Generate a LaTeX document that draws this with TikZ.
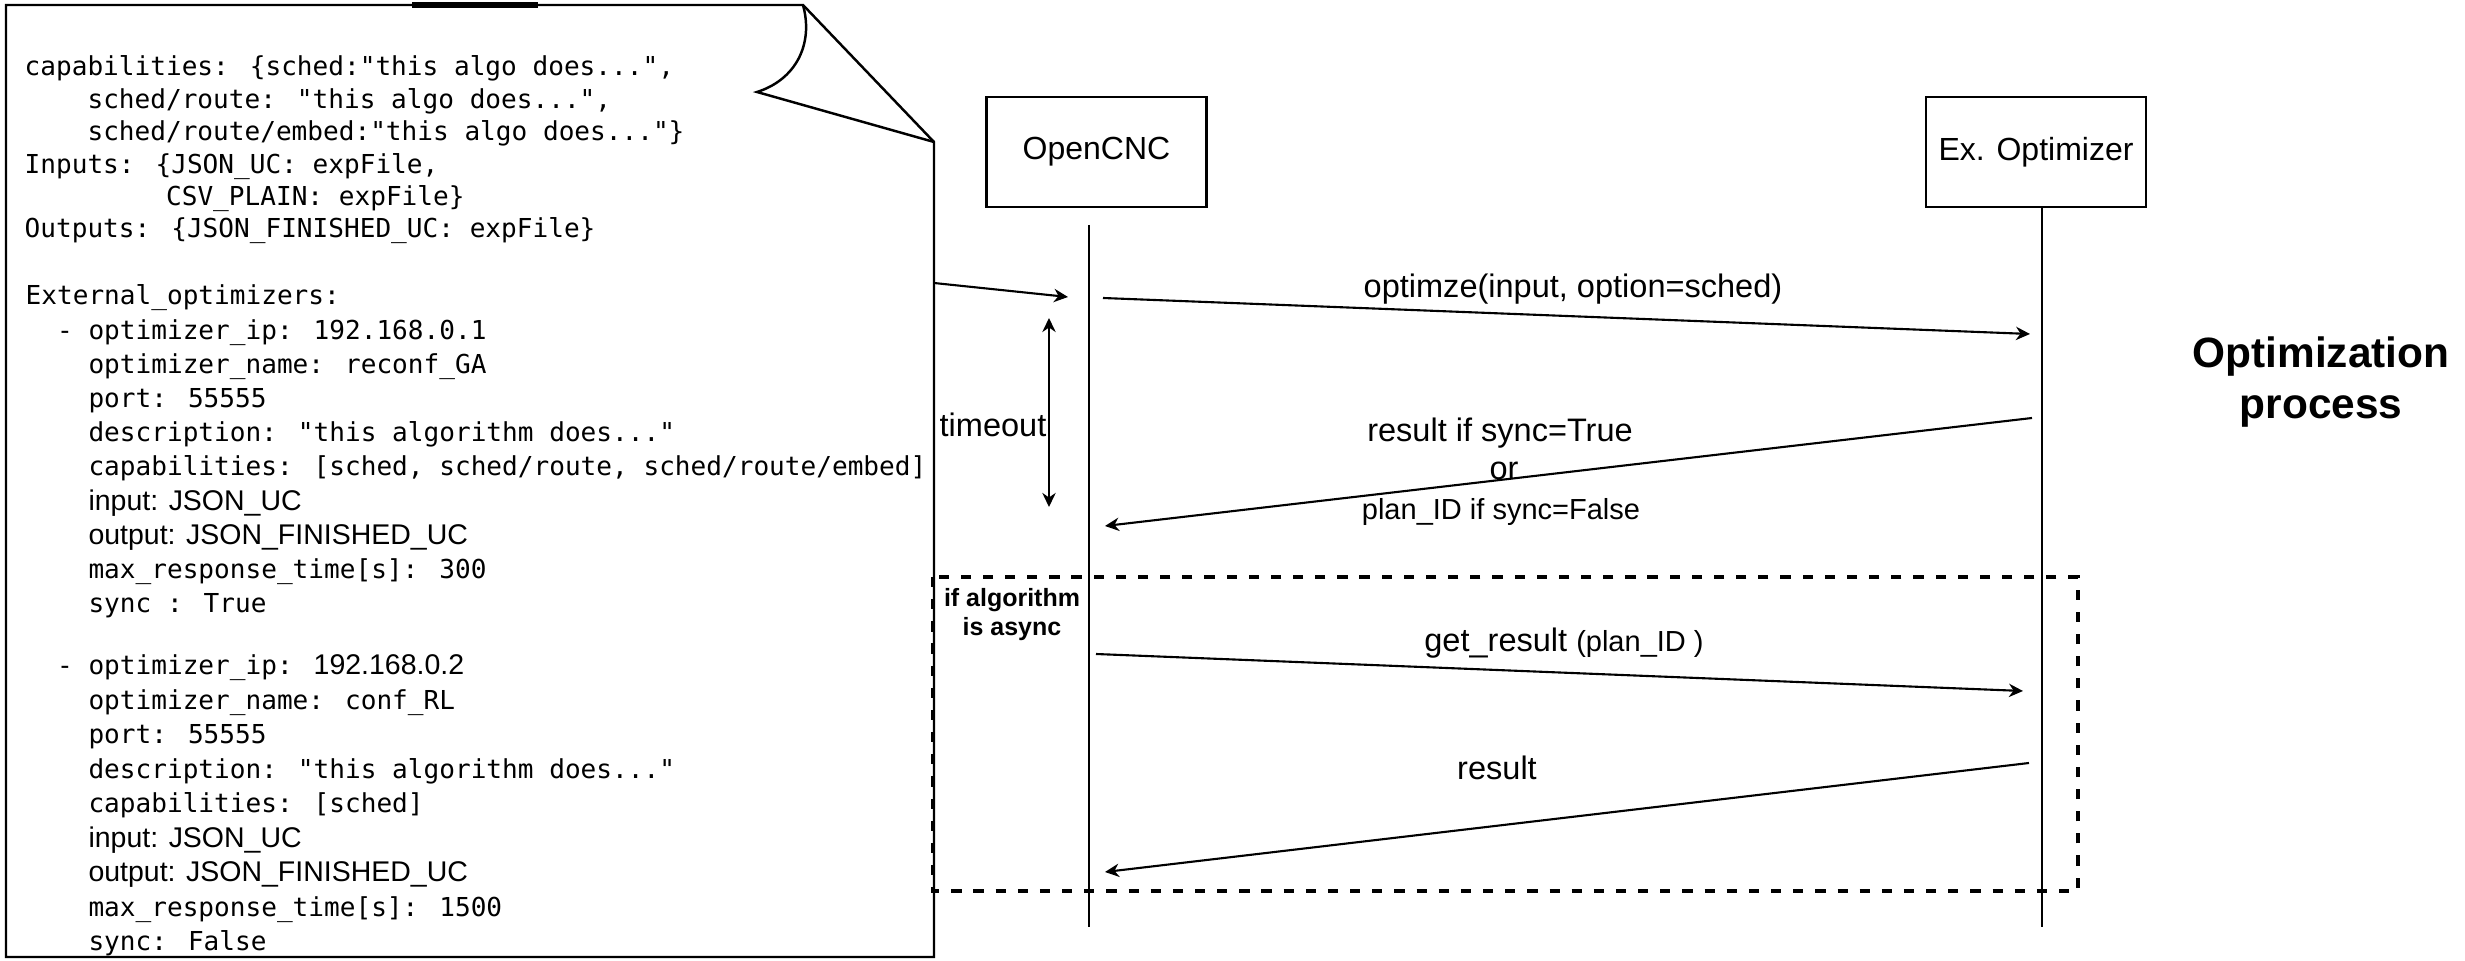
\documentclass[tikz,border=0pt]{standalone}
\usepackage{fontspec}
\setmainfont{Liberation Sans}
\newfontfamily\codefont{DejaVu Sans Mono}
\newcommand\docsans{\rmfamily\fontsize{8.1}{9}\selectfont}
\newcommand\pontos{...}
\usetikzlibrary{arrows.meta}

\begin{document}
\begin{tikzpicture}[
		x=0.01cm, y=-0.01cm,
		caixas/.style={
			draw,
			rectangle,
			minimum width=2.2cm,
			minimum height=1.1cm,
			align=center,
			line width=0.8pt,
			font=\fontsize{9.1}{11}\selectfont
		},
		seta/.style={
			-{Stealth[length=4pt,width=3.8pt]},
			line width=0.6pt
		},
		rotulo/.style={anchor=base, inner sep=0pt, font=\fontsize{9.25}{11}\selectfont},
		rotulopeq/.style={anchor=base, inner sep=0pt, font=\fontsize{8.25}{10}\selectfont},
		codigo/.style={anchor=base west, inner sep=0pt, font=\codefont\fontsize{7.42}{9}\selectfont}
		]
		
		\useasboundingbox (0,0) rectangle (2465,961);
		
		%Documento
		\draw[line width=0.7pt] (6,5) -- (803,5) -- (934,142) -- (934,957) -- (6,957) -- cycle;
		\draw[line width=0.7pt] (803,5) .. controls (814,45) and (795,80) .. (757,92) -- (934,142);
		\draw[line width=1.6pt] (412,5) -- (538,5);
		
		\foreach \l [count=\i] in {
			{capabilities: \{sched:"this algo does\pontos",},
			{\phantom{0000}sched/route: "this algo does\pontos",},
			{\phantom{0000}sched/route/embed:"this algo does\pontos"\}},
			{Inputs: \{JSON\_UC: expFile,},
			{\phantom{000000000}CSV\_PLAIN: expFile\}},
			{Outputs: \{JSON\_FINISHED\_UC: expFile\}}
		}
		\node[codigo] (cfg\i) at (24, {76+(\i-1)*32.4}) {\l};
		
		\foreach \l [count=\i] in {
			{External\_optimizers:},
			{\phantom{00}- optimizer\_ip: 192.168.0.1},
			{\phantom{0000}optimizer\_name: reconf\_GA},
			{\phantom{0000}port: 55555},
			{\phantom{0000}description: "this algorithm does\pontos"},
			{\phantom{0000}capabilities: [sched, sched/route, sched/route/embed]},
			{\phantom{0000}{\docsans input: JSON\_UC}},
			{\phantom{0000}{\docsans output: JSON\_FINISHED\_UC}},
			{\phantom{0000}max\_response\_time[s]: 300},
			{\phantom{0000}sync : True}
		}
		\node[codigo] (optA\i) at (25, {305+(\i-1)*34.2}) {\l};
		
		\foreach \l [count=\i] in {
			{\phantom{00}- optimizer\_ip: {\docsans 192.168.0.2}},
			{\phantom{0000}optimizer\_name: conf\_RL},
			{\phantom{0000}port: 55555},
			{\phantom{0000}description: "this algorithm does\pontos"},
			{\phantom{0000}capabilities: [sched]},
			{\phantom{0000}{\docsans input: JSON\_UC}},
			{\phantom{0000}{\docsans output: JSON\_FINISHED\_UC}},
			{\phantom{0000}max\_response\_time[s]: 1500},
			{\phantom{0000}sync: False}
		}
		\node[codigo] (optB\i) at (25, {675+(\i-1)*34.5}) {\l};
		
		%Participantes
		\node[caixas] (cnc) at (1096.5,152) {OpenCNC};
		\node[caixas] (exopt) at (2036,152) {Ex. Optimizer};
		
		\coordinate (cncTop) at (1089,225);
		\coordinate (cncBot) at (1089,927);
		\coordinate (optTop) at (2042,207);
		\coordinate (optBot) at (2042,927);
		\draw[line width=0.7pt] (cncTop) -- (cncBot);
		\draw[line width=0.7pt] (optTop) -- (optBot);
		
		%Mensagens
		\coordinate (docOut) at (934,283);
		\coordinate (cncIn) at (1068,297);
		\coordinate (m1a) at (1103,298);
		\coordinate (m1b) at (2030,334);
		\coordinate (m2a) at (2032,418);
		\coordinate (m2b) at (1105,526);
		\coordinate (toA) at (1049,318);
		\coordinate (toB) at (1049,507);
		\coordinate (m3a) at (1096,654);
		\coordinate (m3b) at (2023,691);
		\coordinate (m4a) at (2029,763);
		\coordinate (m4b) at (1105,872);
		
		\draw[seta] (docOut) -- (cncIn);
		\draw[seta] (m1a) -- (m1b);
		\draw[seta] (m2a) -- (m2b);
		\draw[{Stealth[length=4pt,width=3.8pt]}-{Stealth[length=4pt,width=3.8pt]}, line width=0.6pt] (toA) -- (toB);
		\draw[seta] (m3a) -- (m3b);
		\draw[seta] (m4a) -- (m4b);
		
		\node[rotulo] (lbOpt) at (1573,298) {optimze(input, option=sched)};
		\node[rotulo] (lbRes) at (1500,442) {result if sync=True};
		\node[rotulo] (lbOr) at (1504,480) {or};
		\node[rotulopeq] (lbPlan) at (1501,520) {plan\_ID if sync=False};
		\node[rotulo] (lbTime) at (993,437) {timeout};
		\node[rotulo] (lbGet) at (1564,652) {get\_result {\fontsize{8.25}{10}\selectfont(plan\_ID )}};
		\node[rotulo] (lbRes2) at (1497,780) {result};
		
		%Bloco async
		\draw[dashed, dash pattern=on 2.9pt off 3.4pt, line width=1pt] (933,577) rectangle (2078,891);
		\node[anchor=north, inner sep=0pt, align=center, font=\bfseries\fontsize{7.1}{8.1}\selectfont] (async) at (1012,588) {if algorithm\\is async};
		
		\node[anchor=north, inner sep=0pt, align=center, font=\bfseries\fontsize{12.06}{14.5}\selectfont] (proc) at (2321,336) {Optimization\\process};
		
	\end{tikzpicture}
\end{document}
